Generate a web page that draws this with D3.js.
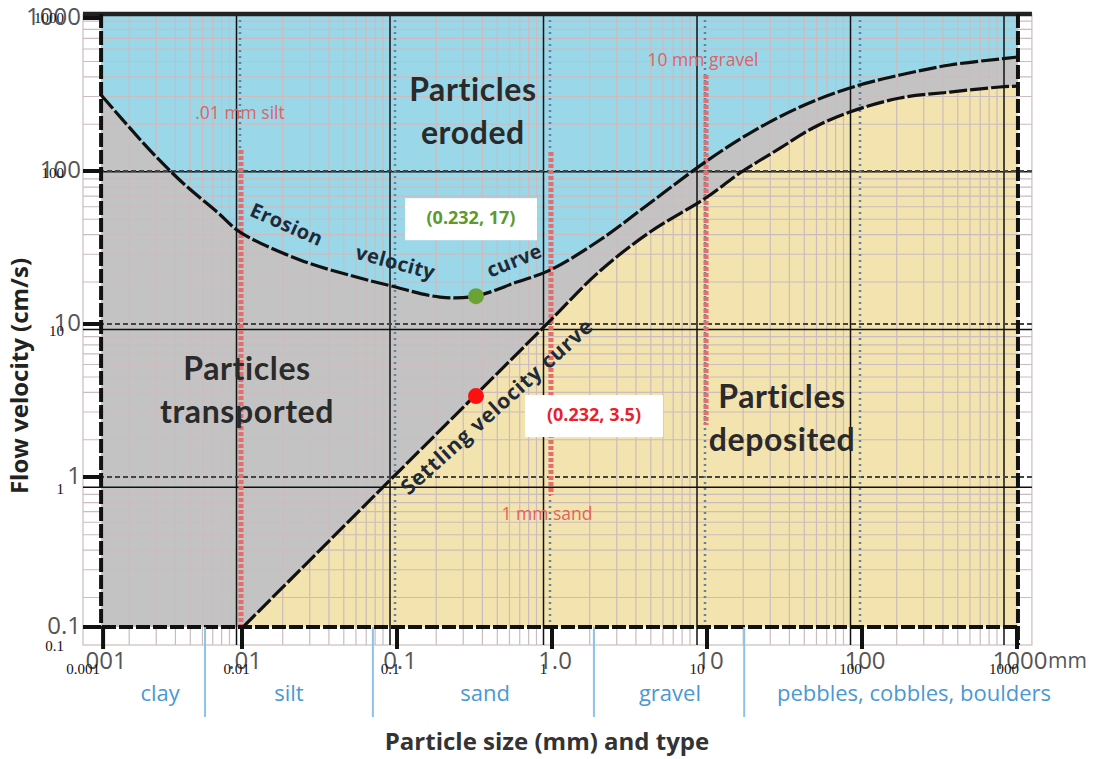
<!DOCTYPE html>
<html>
<head>
<meta charset="utf-8">
<script src="https://cdn.jsdelivr.net/npm/d3@7"></script>
<style>
  body { margin: 0; background: #fff; }
  svg text { font-family: "Open Sans", "DejaVu Sans", sans-serif; }
</style>
</head>
<body>
<div id="chart"></div>
<script>
// Hjulstrom diagram
// particle size in mm, flow velocity in cm/s
var erosionSize = [0.00127, 0.00262, 0.00428, 0.00711, 0.01, 0.0244, 0.0513, 0.093, 0.195, 0.328, 0.612, 1, 2.1, 4.42, 10.1, 19.5, 41, 86, 181, 381, 800, 1045];
var erosionVel  = [314, 137, 83.5, 54, 39.9, 26.2, 20.8, 17.8, 15.0, 15.2, 18.8, 22.5, 35.4, 61.8, 115, 177, 262, 349, 424, 493, 540, 556];

var settlingSize = [0.01045, 0.093, 0.90, 2.1, 4.42, 10.1, 16.8, 30.5, 49.7, 86, 181, 381, 800, 1045];
var settlingVel  = [0.1046, 0.955, 9.42, 22.2, 39.9, 66.6, 97, 141, 191, 243, 300, 328, 354, 359];

var plotSize = [0.00127, 1045];
var plotVel = [0.1046, 1062];

var xTickValues = [0.001, 0.01, 0.1, 1, 10, 100, 1000];
var xTickLabels = ["001", ".01", "0.1", "1.0", "10", "100", "1000"];
var xTickLabelsSmall = ["0.001", "0.01", "0.1", "1", "10", "100", "1000"];
var yTickValues = [0.1, 1, 10, 100, 1000];
var yTickLabels = ["0.1", "1", "10", "100", "1000"];

var typeNames = ["clay", "silt", "sand", "gravel", "pebbles, cobbles, boulders"];
var typeCenters = [0.00305, 0.0207, 0.381, 5.94, 223];
var typeBounds = [0.00595, 0.072, 1.92, 17.9];

var markerSizes = [0.01, 1, 10];
var markerTop = [137, 133, 424];
var markerBottom = [0.1046, 0.762, 2.19];
var markerLabels = [".01 mm silt", "1 mm sand", "10 mm gravel"];

var pointSize = [0.333, 0.333];
var pointVel = [15.2, 3.38];
var pointLabels = ["(0.232, 17)", "(0.232, 3.5)"];

var regionLabels = [["Particles", "eroded"], ["Particles", "transported"], ["Particles", "deposited"]];
var regionSize = [0.318, 0.0111, 31.4];
var regionVel = [247, 3.7, 2.43];

var W = 1098, H = 759;

var svg = d3.select("#chart").append("svg")
  .attr("width", W)
  .attr("height", H)
  .attr("viewBox", [0, 0, W, H]);

// main chart scales (big labels) and the overlaid grid (serif labels)
var x = d3.scaleLog().domain([0.001, 1000]).range([85, 1015]);
var y = d3.scaleLog().domain([0.1, 1000]).range([630, 18]);
var gx = d3.scaleLog().domain([0.001, 1520]).range([83, 83 + (1004 - 83) * Math.log10(1520 / 0.001) / 6]);
var gy = d3.scaleLog().domain([0.1, 1000]).range([645, 14]);

var px0 = x(plotSize[0]), px1 = x(plotSize[1]);
var py0 = y(plotVel[0]), py1 = y(plotVel[1]);

var erosion = erosionSize.map(function (s, i) { return [s, erosionVel[i]]; });
var settling = settlingSize.map(function (s, i) { return [s, settlingVel[i]]; });
var smooth = d3.curveCatmullRom.alpha(0.5);

// fills
svg.append("rect")
  .attr("x", px0).attr("y", py1)
  .attr("width", px1 - px0).attr("height", py0 - py1)
  .attr("fill", "#c3c3c3");

svg.append("path")
  .datum(erosion)
  .attr("fill", "#9ad7e8")
  .attr("d", d3.area()
    .x(function (d) { return x(d[0]); })
    .y0(py1)
    .y1(function (d) { return y(d[1]); })
    .curve(smooth));

svg.append("path")
  .datum(settling)
  .attr("fill", "#f3e3ae")
  .attr("d", d3.area()
    .x(function (d) { return x(d[0]); })
    .y0(py0)
    .y1(function (d) { return y(d[1]); })
    .curve(smooth));

// minor grid
var minorX = [], minorY = [];
[0.001, 0.01, 0.1, 1, 10, 100, 1000].forEach(function (d) {
  for (var m = 2; m <= 9; m++) if (d * m < 1520) minorX.push(d * m);
});
[0.1, 1, 10, 100].forEach(function (d) {
  for (var m = 2; m <= 9; m++) minorY.push(d * m);
});
var gX0 = gx.range()[0], gX1 = gx.range()[1];
var gY0 = gy.range()[0], gY1 = gy.range()[1];

var grid = svg.append("g").attr("stroke", "#cbbcbe").attr("stroke-width", 1.2);
grid.selectAll(".vx").data(minorX).join("line")
  .attr("x1", function (d) { return gx(d); }).attr("x2", function (d) { return gx(d); })
  .attr("y1", gY1).attr("y2", gY0);
grid.selectAll(".hy").data(minorY).join("line")
  .attr("y1", function (d) { return gy(d); }).attr("y2", function (d) { return gy(d); })
  .attr("x1", gX0).attr("x2", gX1);
grid.append("rect")
  .attr("x", gX0).attr("y", gY1)
  .attr("width", gX1 - gX0).attr("height", gY0 - gY1)
  .attr("fill", "none");

// solid major lines of the overlaid grid
var major = svg.append("g").attr("stroke", "#111").attr("stroke-width", 1.5);
major.selectAll(".mx").data(xTickValues.slice(1)).join("line")
  .attr("x1", function (d) { return gx(d); }).attr("x2", function (d) { return gx(d); })
  .attr("y1", gY1).attr("y2", gY0);
major.selectAll(".my").data([1, 10, 100]).join("line")
  .attr("y1", function (d) { return gy(d); }).attr("y2", function (d) { return gy(d); })
  .attr("x1", gX0).attr("x2", gX1);

// dashed / dotted major lines of the main chart
svg.append("g").selectAll("line").data([1, 10, 100]).join("line")
  .attr("y1", function (d) { return y(d); }).attr("y2", function (d) { return y(d); })
  .attr("x1", gX0).attr("x2", gX1)
  .attr("stroke", "#444").attr("stroke-width", 1.8)
  .attr("stroke-dasharray", "5,3");

svg.append("g").selectAll("line").data([0.01, 0.1, 1, 10, 100]).join("line")
  .attr("x1", function (d) { return x(d); }).attr("x2", function (d) { return x(d); })
  .attr("y1", py1).attr("y2", py0)
  .attr("stroke", "#62839a").attr("stroke-width", 2.5)
  .attr("stroke-dasharray", "2,4");

// red size markers
markerSizes.forEach(function (s, i) {
  svg.append("line")
    .attr("x1", x(s) + 1).attr("x2", x(s) + 1)
    .attr("y1", y(markerTop[i])).attr("y2", y(markerBottom[i]))
    .attr("stroke", "#e46d6d").attr("stroke-width", 5)
    .attr("stroke-dasharray", "4,2");
});
var markerOffsets = [[0, -36], [-3, 20], [-2, -14]];
markerSizes.forEach(function (s, i) {
  var yy = i === 1 ? y(markerBottom[i]) : y(markerTop[i]);
  svg.append("text")
    .attr("x", x(s) + markerOffsets[i][0])
    .attr("y", yy + markerOffsets[i][1])
    .attr("text-anchor", "middle")
    .attr("dominant-baseline", "middle")
    .attr("font-size", 17.5)
    .attr("fill", "#e06262")
    .text(markerLabels[i]);
});

// curves
var line = d3.line()
  .x(function (d) { return x(d[0]); })
  .y(function (d) { return y(d[1]); })
  .curve(smooth);

[erosion, settling].forEach(function (c) {
  svg.append("path")
    .datum(c)
    .attr("fill", "none")
    .attr("stroke", "#111")
    .attr("stroke-width", 3.2)
    .attr("stroke-dasharray", "18,3")
    .attr("d", line);
});

// frame
svg.append("line")
  .attr("x1", gX0).attr("x2", gX1).attr("y1", py1).attr("y2", py1)
  .attr("stroke", "#222").attr("stroke-width", 4.5);
var dashedFrame = svg.append("g")
  .attr("stroke", "#111").attr("stroke-width", 4)
  .attr("stroke-dasharray", "14,3");
dashedFrame.append("line").attr("x1", px0).attr("x2", px0).attr("y1", py1).attr("y2", py0);
dashedFrame.append("line").attr("x1", px1).attr("x2", px1).attr("y1", py1).attr("y2", py0 + 18);
dashedFrame.append("line").attr("x1", gX0 + 2).attr("x2", px1).attr("y1", py0).attr("y2", py0);

// thick ticks
svg.append("g").selectAll("line").data(xTickValues).join("line")
  .attr("x1", function (d) { return Math.max(x(d), px0) + 2; })
  .attr("x2", function (d) { return Math.max(x(d), px0) + 2; })
  .attr("y1", py0).attr("y2", py0 + 22)
  .attr("stroke", "#111").attr("stroke-width", 4);
svg.append("g").selectAll("line").data(yTickValues).join("line")
  .attr("y1", function (d) { return Math.min(y(d), py0); })
  .attr("y2", function (d) { return Math.min(y(d), py0); })
  .attr("x1", gX0).attr("x2", px0)
  .attr("stroke", "#111").attr("stroke-width", 4);

// tick labels: big (main chart) and small serif (overlaid grid)
svg.append("g").selectAll("text").data(xTickValues).join("text")
  .attr("x", function (d) { return Math.max(x(d), px0) + 5; })
  .attr("y", 669)
  .attr("text-anchor", "middle")
  .attr("font-size", 24)
  .attr("fill", "#555")
  .text(function (d, i) { return xTickLabels[i]; });
svg.append("text")
  .attr("x", x(1000) + 33).attr("y", 668)
  .attr("font-size", 21).attr("fill", "#555")
  .text("mm");
svg.append("g").selectAll("text").data(xTickValues).join("text")
  .attr("x", function (d) { return gx(d); })
  .attr("y", 674)
  .attr("text-anchor", "middle")
  .attr("font-size", 15)
  .style("font-family", "'Liberation Serif', serif")
  .attr("fill", "#111")
  .text(function (d, i) { return xTickLabelsSmall[i]; });

svg.append("g").selectAll("text").data(yTickValues).join("text")
  .attr("x", 81)
  .attr("y", function (d) { return Math.min(y(d), py0) + 1; })
  .attr("text-anchor", "end")
  .attr("dominant-baseline", "middle")
  .attr("font-size", 24)
  .attr("fill", "#555")
  .text(function (d, i) { return yTickLabels[i]; });
svg.append("g").selectAll("text").data(yTickValues).join("text")
  .attr("x", 64)
  .attr("y", function (d) { return Math.max(gy(d) + 3, 20); })
  .attr("text-anchor", "end")
  .attr("dominant-baseline", "middle")
  .attr("font-size", 15)
  .style("font-family", "'Liberation Serif', serif")
  .attr("fill", "#111")
  .text(function (d, i) { return yTickLabels[i]; });

// particle type band
svg.append("g").selectAll("line").data(typeBounds).join("line")
  .attr("x1", function (d) { return x(d); }).attr("x2", function (d) { return x(d); })
  .attr("y1", py0).attr("y2", 717)
  .attr("stroke", "#8cc2ea").attr("stroke-width", 2);
svg.append("g").selectAll("text").data(typeCenters).join("text")
  .attr("x", function (d) { return x(d); })
  .attr("y", 701)
  .attr("text-anchor", "middle")
  .attr("font-size", 22)
  .attr("fill", "#4b98d3")
  .text(function (d, i) { return typeNames[i]; });

// axis titles
svg.append("text")
  .attr("x", 547).attr("y", 750)
  .attr("text-anchor", "middle")
  .attr("font-size", 24).attr("font-weight", "bold")
  .attr("fill", "#333")
  .text("Particle size (mm) and type");
svg.append("text")
  .attr("transform", "translate(28,376) rotate(-90)")
  .attr("text-anchor", "middle")
  .attr("font-size", 24).attr("font-weight", "bold")
  .attr("fill", "#222")
  .text("Flow velocity (cm/s)");

// region labels
regionLabels.forEach(function (lines, i) {
  var t = svg.append("text")
    .attr("x", x(regionSize[i]))
    .attr("y", y(regionVel[i]))
    .attr("text-anchor", "middle")
    .attr("font-size", 32).attr("font-weight", "bold")
    .attr("letter-spacing", 0.6)
    .style("font-family", "Lato, 'Open Sans', sans-serif")
    .attr("fill", "#2a2a2a");
  t.append("tspan").attr("x", x(regionSize[i])).attr("dy", -10).text(lines[0]);
  t.append("tspan").attr("x", x(regionSize[i])).attr("dy", 43).text(lines[1]);
});

// curve labels
var curveWords = [
  { text: "Erosion", s: 0.0198, v: 43.7, rot: 24 },
  { text: "velocity", s: 0.1, v: 24.7, rot: 15 },
  { text: "curve", s: 0.594, v: 25.4, rot: -22 },
  { text: "Settling velocity curve", s: 0.462, v: 2.83, rot: -42 }
];
curveWords.forEach(function (w, i) {
  svg.append("text")
    .attr("transform", "translate(" + x(w.s) + "," + y(w.v) + ") rotate(" + w.rot + ")")
    .attr("text-anchor", "middle")
    .attr("dominant-baseline", "middle")
    .attr("font-size", i === 3 ? 21 : 20).attr("font-weight", "bold")
    .attr("letter-spacing", i === 3 ? 0.8 : 0.4)
    .attr("fill", "#1d2b38")
    .text(w.text);
});

// highlighted points
var boxOffsets = [[-5, -77], [118, 20]];
var dotColors = ["#6aa235", "#ff1010"];
var textColors = ["#5b9a2e", "#e6222b"];
pointSize.forEach(function (s, i) {
  var cx = x(s), cy = y(pointVel[i]);
  var bx = cx + boxOffsets[i][0], by = cy + boxOffsets[i][1];
  var bw = i === 0 ? 132 : 138;
  svg.append("rect")
    .attr("x", bx - bw / 2).attr("y", by - 21)
    .attr("width", bw).attr("height", 42)
    .attr("fill", "#fff");
  svg.append("text")
    .attr("x", bx).attr("y", by)
    .attr("text-anchor", "middle")
    .attr("dominant-baseline", "middle")
    .attr("font-size", 18).attr("font-weight", "bold")
    .attr("fill", textColors[i])
    .text(pointLabels[i]);
  svg.append("circle")
    .attr("cx", cx).attr("cy", cy).attr("r", 8)
    .attr("fill", dotColors[i]);
});
</script>
</body>
</html>
